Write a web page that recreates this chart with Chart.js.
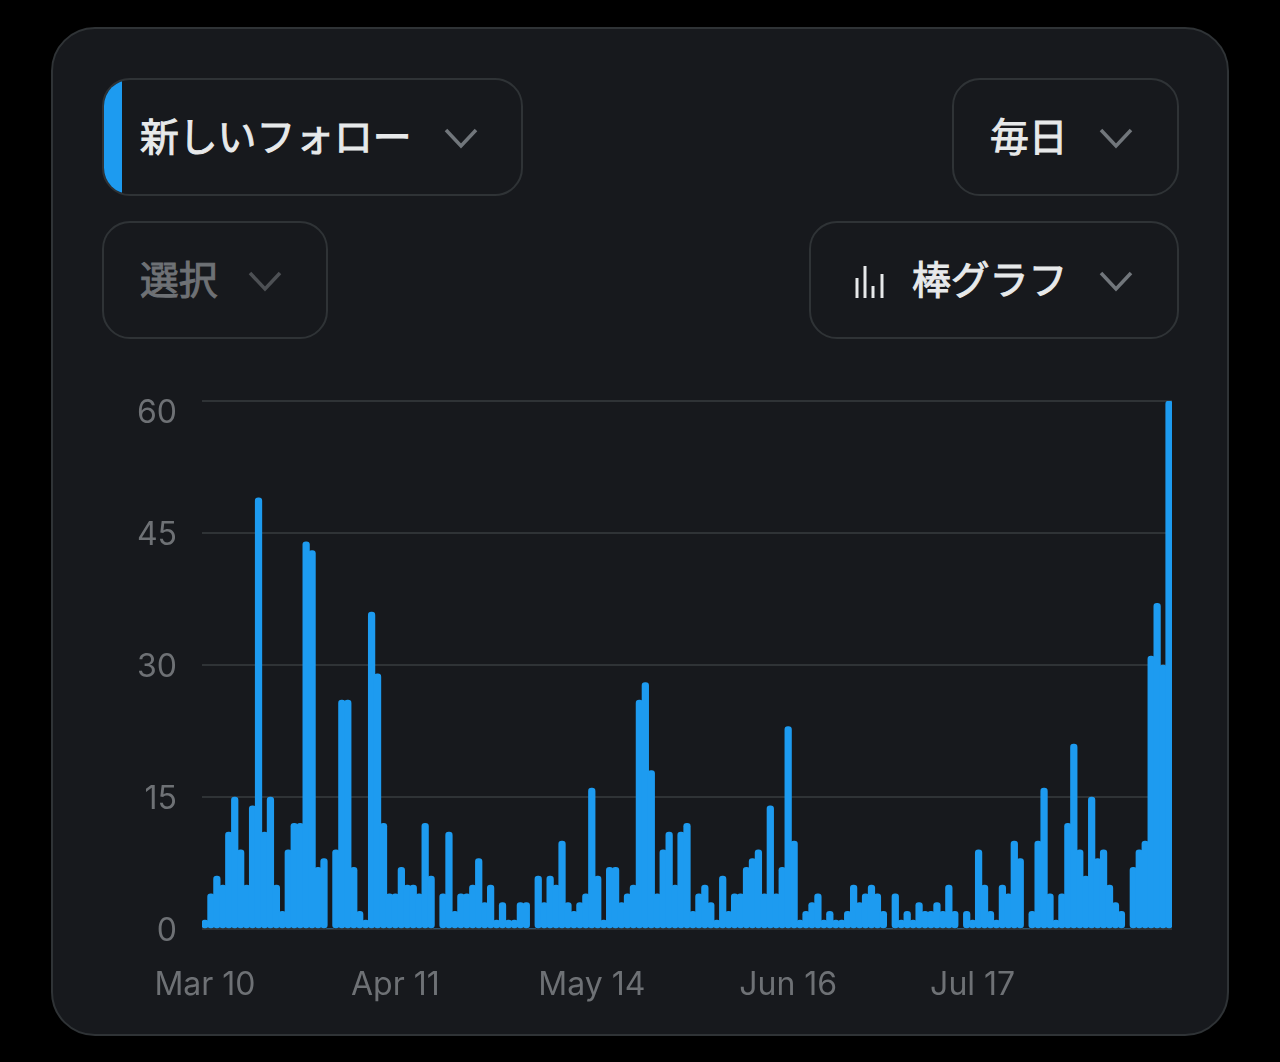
<!DOCTYPE html>
<html lang="ja">
<head>
<meta charset="utf-8">
<title>新しいフォロー</title>
<script src="https://cdn.jsdelivr.net/npm/chart.js@4/dist/chart.umd.min.js"></script>
<style>
    html, body { margin: 0; padding: 0; width: 1280px; height: 1062px; background: #000; overflow: hidden; }
    body { font-family: "Noto Sans CJK JP", sans-serif; }
    .card { position: absolute; left: 51px; top: 27px; width: 1174px; height: 1005px; background: #17191d; border: 2px solid #2f3336; border-radius: 44px; }
    .pill { position: absolute; box-sizing: border-box; height: 118px; border: 2px solid #2f3336; border-radius: 28px; overflow: hidden; }
    .pill span { position: absolute; top: 50%; transform: translateY(-50%); margin-top: -3px; font-size: 38.8px; line-height: 1; font-weight: 400; -webkit-text-stroke: 1px currentColor; color: #e7e9ea; white-space: nowrap; }
    .pill.muted span { color: #6e7175; }
    .pill svg { position: absolute; }
    .accent { position: absolute; left: 0; top: 0; bottom: 0; width: 18px; background: #1d9bf0; }
    canvas { position: absolute; left: 102px; top: 380px; }
</style>
</head>
<body>
<div class="card"></div>

<div class="pill" style="left:102px;top:78px;width:421px">
    <div class="accent"></div>
    <span style="left:36px">新しいフォロー</span>
    <svg style="left:339px;top:47px" width="36" height="24"><path d="M3 3 L18 19 L33 3" fill="none" stroke="#71767b" stroke-width="3.5"/></svg>
</div>
<div class="pill" style="left:952px;top:78px;width:227px">
    <span style="left:36px">毎日</span>
    <svg style="left:144px;top:47px" width="36" height="24"><path d="M3 3 L18 19 L33 3" fill="none" stroke="#71767b" stroke-width="3.5"/></svg>
</div>
<div class="pill muted" style="left:102px;top:221px;width:226px">
    <span style="left:36px">選択</span>
    <svg style="left:143px;top:47px" width="36" height="24"><path d="M3 3 L18 19 L33 3" fill="none" stroke="#4d5054" stroke-width="3.5"/></svg>
</div>
<div class="pill" style="left:809px;top:221px;width:370px">
    <svg style="left:42px;top:40px" width="34" height="38"><path d="M4 15 V35 M12 3 V35 M20 23 V35 M29 11 V35" fill="none" stroke="#e7e9ea" stroke-width="3"/></svg>
    <span style="left:101px">棒グラフ</span>
    <svg style="left:287px;top:47px" width="36" height="24"><path d="M3 3 L18 19 L33 3" fill="none" stroke="#71767b" stroke-width="3.5"/></svg>
</div>

<canvas id="followsChart" width="1070" height="639"></canvas>

<script>
    // Daily new follows, first bar is Mar 10
    const followValues = [
        1, 4, 6, 5, 11, 15, 9, 5, 14, 49,
        11, 15, 5, 2, 9, 12, 12, 44, 43, 7,
        8, 0, 9, 26, 26, 7, 2, 1, 36, 29,
        12, 4, 4, 7, 5, 5, 4, 12, 6, 0,
        4, 11, 2, 4, 4, 5, 8, 3, 5, 1,
        3, 1, 1, 3, 3, 0, 6, 3, 6, 5,
        10, 3, 2, 3, 4, 16, 6, 1, 7, 7,
        3, 4, 5, 26, 28, 18, 4, 9, 11, 5,
        11, 12, 2, 4, 5, 3, 1, 6, 2, 4,
        4, 7, 8, 9, 4, 14, 4, 7, 23, 10,
        1, 2, 3, 4, 1, 2, 1, 1, 2, 5,
        3, 4, 5, 4, 2, 0, 4, 1, 2, 1,
        3, 2, 2, 3, 2, 5, 2, 0, 2, 1,
        9, 5, 2, 1, 5, 4, 10, 8, 0, 2,
        10, 16, 4, 1, 4, 12, 21, 9, 6, 15,
        8, 9, 5, 3, 2, 0, 7, 9, 10, 31,
        37, 30, 60
    ];
    const xTickLabels = ['Mar 10', 'Apr 11', 'May 14', 'Jun 16', 'Jul 17'];
    const yTickValues = [0, 15, 30, 45, 60];

    // One category per day
    const dayLabels = followValues.map((_, i) =>
        new Date(2024, 2, 10 + i).toLocaleDateString('en-US', { month: 'short', day: 'numeric' }));

    const tickColor = '#6e7175';
    const tickFont = { family: 'Inter, sans-serif', size: 32, lineHeight: '20px' };

    new Chart(document.getElementById('followsChart').getContext('2d'), {
        type: 'bar',
        data: {
            labels: dayLabels,
            datasets: [{
                data: followValues,
                backgroundColor: '#1d9bf0',
                barThickness: 6.6,
                borderRadius: 3.3,
                borderSkipped: false
            }]
        },
        options: {
            responsive: false,
            animation: false,
            layout: { padding: { top: 21 } },
            plugins: {
                legend: { display: false },
                tooltip: { enabled: false }
            },
            scales: {
                x: {
                    grid: { display: false },
                    border: { display: false },
                    afterFit: function (scale) {
                        scale.height = 90;
                        scale.paddingLeft = 0;
                        scale.paddingRight = 0;
                    },
                    ticks: {
                        color: tickColor,
                        font: tickFont,
                        padding: 38,
                        autoSkip: false,
                        maxRotation: 0,
                        callback: function (value) {
                            const label = this.getLabelForValue(value);
                            return xTickLabels.includes(label) ? label : '';
                        }
                    }
                },
                y: {
                    min: 0,
                    max: 60,
                    afterBuildTicks: function (scale) {
                        scale.ticks = yTickValues.map(v => ({ value: v }));
                    },
                    afterFit: function (scale) {
                        scale.width = 100;
                        scale.paddingTop = 0;
                        scale.paddingBottom = 0;
                    },
                    grid: { color: '#2f3336', lineWidth: 2, drawTicks: false },
                    border: { display: false },
                    ticks: {
                        color: tickColor,
                        font: tickFont,
                        padding: 25,
                        labelOffset: 2,
                        // top label sits just under its line, the blank first row pushes it down
                        callback: function (value) {
                            return value === 60 ? ['', '60'] : String(value);
                        }
                    }
                }
            }
        }
    });
</script>
</body>
</html>
